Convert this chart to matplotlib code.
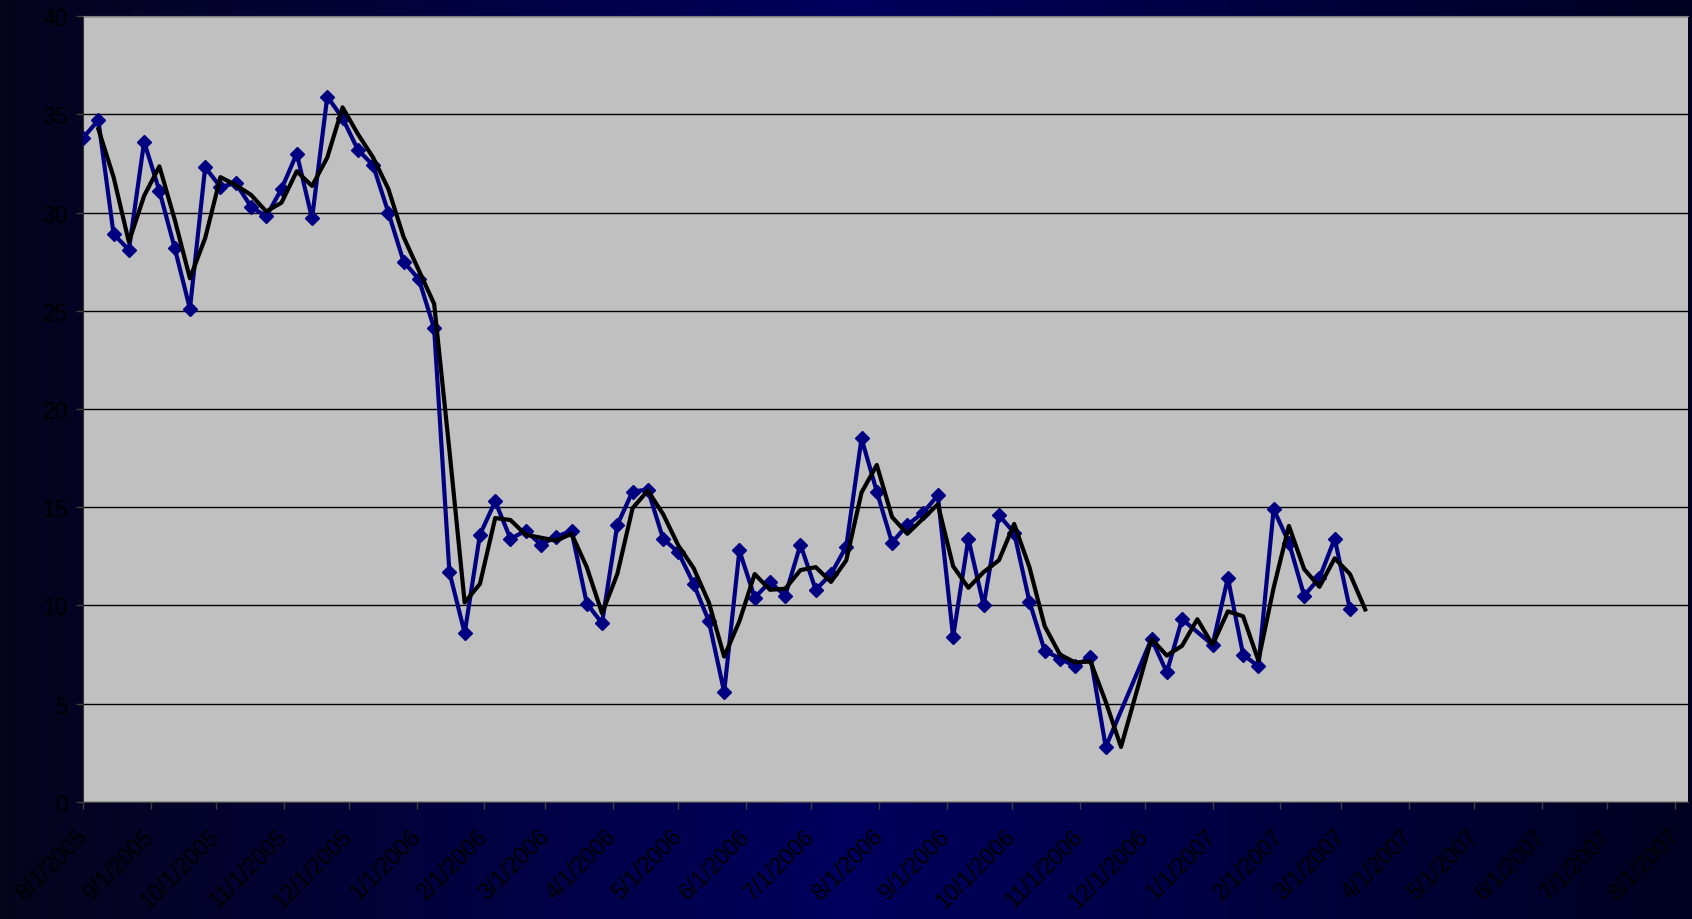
import numpy as np
import pandas as pd
import matplotlib
matplotlib.use('Agg')
import matplotlib.pyplot as plt
import matplotlib.dates as mdates
from matplotlib.colors import LinearSegmentedColormap

plt.rcParams['font.family'] = ['Liberation Sans', 'DejaVu Sans']

# weekly readings, starting 8/1/2005 (blank weeks are nan)
weeks = pd.date_range('2005-08-01', periods=85, freq='7D')
weekly = [33.8, 34.7, 28.9, 28.1, 33.6, 31.1, 28.2, 25.1, 32.3, 31.3,
          31.5, 30.3, 29.8, 31.2, 33.0, 29.7, 35.9, 34.8, 33.2, 32.4,
          30.0, 27.5, 26.6, 24.1, 11.7, 8.6, 13.6, 15.3, 13.4, 13.8,
          13.1, 13.5, 13.8, 10.1, 9.1, 14.1, 15.8, 15.9, 13.4, 12.7,
          11.1, 9.2, 5.6, 12.8, 10.4, 11.2, 10.5, 13.1, 10.8, 11.6,
          13.0, 18.5, 15.8, 13.2, 14.1, 14.7, 15.6, 8.4, 13.4, 10.0,
          14.6, 13.7, 10.2, 7.7, 7.3, 6.9, 7.4, 2.8, np.nan, np.nan,
          8.3, 6.6, 9.3, np.nan, 8.0, 11.4, 7.5, 6.9, 14.9, 13.2,
          10.5, 11.4, 13.4, 9.8, np.nan]

# 2-period moving average line (black)
moving_avg = [np.nan, 34.25, 31.8, 28.5, 30.85, 32.35, 29.65, 26.65, 28.7, 31.8,
              31.4, 30.9, 30.05, 30.5, 32.1, 31.35, 32.8, 35.35, 34.0, 32.8,
              31.2, 28.75, 27.05, 25.35, 17.9, 10.15, 11.1, 14.45, 14.35, 13.6,
              13.45, 13.3, 13.65, 11.95, 9.6, 11.6, 14.95, 15.85, 14.65, 13.05,
              11.9, 10.15, 7.4, 9.2, 11.6, 10.8, 10.85, 11.8, 11.95, 11.2,
              12.3, 15.75, 17.15, 14.5, 13.65, 14.4, 15.15, 12.0, 10.9, 11.7,
              12.3, 14.15, 11.95, 8.95, 7.5, 7.1, 7.15, 5.1, 2.8, np.nan,
              8.3, 7.45, 7.95, 9.3, 8.0, 9.7, 9.45, 7.2, 10.9, 14.05,
              11.85, 10.95, 12.4, 11.6, 9.8]

df = pd.DataFrame({'date': weeks, 'weekly': weekly, 'avg': moving_avg})

fig = plt.figure(figsize=(16.92, 9.2), dpi=100)

# dark navy background, darker toward the sides
bg = fig.add_axes([0, 0, 1, 1], zorder=-10)
cmap = LinearSegmentedColormap.from_list(
    'bg', [(0.0, '#06041c'), (0.5, '#00005e'), (1.0, '#000020')])
grad = np.linspace(0, 1, 512).reshape(1, -1)
bg.imshow(grad, aspect='auto', cmap=cmap, extent=[0, 1, 0, 1])
bg.set_axis_off()

ax = fig.add_axes([0.0491, 0.1272, 0.9485, 0.8543])
ax.set_facecolor('#c0c0c0')

w = df.dropna(subset=['weekly'])
a = df.dropna(subset=['avg'])
ax.plot(w['date'], w['weekly'], color='#000080', lw=3, marker='D',
        markersize=7, markerfacecolor='#000080', markeredgecolor='#000080', zorder=3)
ax.plot(a['date'], a['avg'], color='black', lw=3, zorder=4)

ax.set_ylim(0, 40)
ax.set_yticks(range(0, 41, 5))
ax.set_xlim(pd.Timestamp('2005-08-01'), pd.Timestamp('2007-08-07'))
ax.xaxis.set_major_locator(mdates.MonthLocator())
ax.xaxis.set_major_formatter(plt.FuncFormatter(
    lambda x, pos: '{d.month}/{d.day}/{d.year}'.format(d=mdates.num2date(x))))

ax.yaxis.grid(True, color='black', lw=1)
ax.set_axisbelow(True)

ax.tick_params(axis='y', length=5, width=1, color='#404040', pad=6,
               labelsize=16.5, labelcolor='black')
ax.tick_params(axis='x', length=5, width=1, color='#404040', pad=17,
               labelsize=16.5, labelcolor='black')
for lab in ax.get_xticklabels():
    lab.set_rotation(45)
    lab.set_ha('right')
    lab.set_va('center')
    lab.set_rotation_mode('anchor')

ax.spines['right'].set_visible(False)
ax.spines['top'].set_color('#808080')
ax.spines['left'].set_color('#303030')
ax.spines['bottom'].set_color('#404040')

fig.savefig('out.png', dpi=100)
